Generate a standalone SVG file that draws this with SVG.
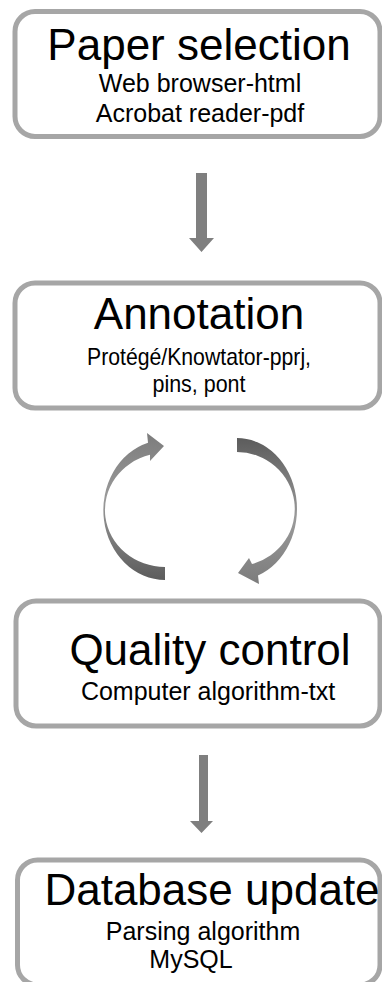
<svg xmlns="http://www.w3.org/2000/svg" width="382" height="982" viewBox="0 0 382 982">
  <style>
    .box { fill: #ffffff; stroke: #a6a6a6; stroke-width: 5; }
    .title { font-family: "Liberation Sans", Arial, sans-serif; font-size: 44px; fill: #000000; text-anchor: middle; }
    .sub { font-family: "Liberation Sans", Arial, sans-serif; font-size: 25px; fill: #000000; text-anchor: middle; }
    .sub.narrow { font-size: 24px; }
    .flow { fill: #7f7f7f; }
  </style>
  <defs>
    <linearGradient id="gradUp" x1="0" y1="0" x2="0" y2="1">
      <stop offset="0" stop-color="#7c7c7c"/>
      <stop offset="0.45" stop-color="#9a9a9a"/>
      <stop offset="1" stop-color="#5c5c5c"/>
    </linearGradient>
    <linearGradient id="gradDown" x1="0" y1="0" x2="0" y2="1">
      <stop offset="0" stop-color="#5c5c5c"/>
      <stop offset="0.55" stop-color="#9a9a9a"/>
      <stop offset="1" stop-color="#7c7c7c"/>
    </linearGradient>
  </defs>

  <rect width="382" height="982" fill="#ffffff"/>

  <!-- connectors -->
  <g id="connectors">
    <path class="flow" d="M196,173 H207 V238 H214 L201.5,252 L189,238 H196 Z"/>
    <path class="flow" d="M199,755 H208 V821 H213 L201.5,833 L190,821 H199 Z"/>
    <!-- cycle between annotation and quality control -->
    <path fill="url(#gradUp)" d="M165,580 A62,70 0 0 1 148,442.8 L147,433 L164,446 L150,461 L150,454.8 A60,57 0 0 0 165,567 Z"/>
    <path fill="url(#gradDown)" d="M237,438 A60,71 0 0 1 258,575.5 L259,584 L238,573 L249,558 L252,564 A58,57 0 0 0 237,452 Z"/>
  </g>

  <g id="paper-selection">
    <rect class="box" x="15" y="11.5" width="365" height="125" rx="20"/>
    <text class="title" x="199" y="60">Paper selection</text>
    <text class="sub" x="200" y="92">Web browser-html</text>
    <text class="sub" x="200" y="122">Acrobat reader-pdf</text>
  </g>

  <g id="annotation">
    <rect class="box" x="15" y="283" width="365" height="125" rx="20"/>
    <text class="title" x="199" y="329">Annotation</text>
    <text class="sub narrow" x="199" y="365" textLength="224" lengthAdjust="spacingAndGlyphs">Protégé/Knowtator-pprj,</text>
    <text class="sub narrow" x="199" y="392" textLength="93" lengthAdjust="spacingAndGlyphs">pins, pont</text>
  </g>

  <g id="quality-control">
    <rect class="box" x="16" y="601" width="364" height="125" rx="20"/>
    <text class="title" x="210" y="665">Quality control</text>
    <text class="sub" x="208" y="700">Computer algorithm-txt</text>
  </g>

  <g id="database-update">
    <rect class="box" x="17.5" y="860" width="362.5" height="125" rx="20"/>
    <text class="title" x="212" y="905">Database update</text>
    <text class="sub" x="203" y="940">Parsing algorithm</text>
    <text class="sub" x="191" y="968">MySQL</text>
  </g>
</svg>
